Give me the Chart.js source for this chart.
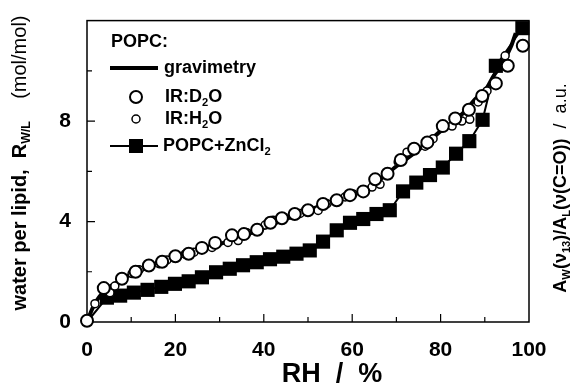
<!DOCTYPE html>
<html>
<head>
<meta charset="utf-8">
<script src="https://cdn.jsdelivr.net/npm/chart.js@4/dist/chart.umd.min.js"></script>
<style>
  html, body { margin: 0; padding: 0; background: #fff; }
  #wrap { width: 579px; height: 390px; }
</style>
</head>
<body>
<div id="wrap"><canvas id="chart" width="579" height="390"></canvas></div>
<script>
// gravimetry curve (POPC)
const rhGrav = [0, 1, 2, 4, 6, 10, 15, 20, 25, 30, 35, 40, 45, 50, 55, 60, 65, 70, 75, 80, 85, 88, 90, 92, 94, 96, 97];
const rGrav = [0, 0.45, 0.8, 1.25, 1.5, 1.9, 2.25, 2.55, 2.85, 3.1, 3.4, 3.75, 4.1, 4.45, 4.75, 5.05, 5.5, 6.2, 6.85, 7.6, 8.3, 8.9, 9.2, 9.8, 10.3, 11.0, 11.5];

// IR:D2O (large open circles)
const rhD2O = [0, 3.8, 7.9, 11, 14, 17, 20, 23, 26, 29, 32.8, 35.5, 38.5, 41.5, 44.1, 47, 50, 53.4, 56.5, 59.5, 62.5, 65.2, 68, 71, 74, 77, 80.5, 83.3, 86.4, 89.4, 92.5, 95.2, 98.6];
const rD2O = [0.05, 1.35, 1.72, 2.0, 2.25, 2.4, 2.62, 2.72, 2.95, 3.15, 3.45, 3.5, 3.67, 3.95, 4.13, 4.3, 4.45, 4.7, 4.85, 5.05, 5.2, 5.68, 5.9, 6.45, 6.9, 7.15, 7.8, 8.1, 8.45, 9.0, 9.5, 10.2, 11.0];

// IR:H2O (small open circles)
const rhH2O = [1.8, 5.2, 6.3, 10.2, 11.8, 16.3, 18.1, 22.2, 24.2, 28.3, 31.9, 34.2, 36.2, 40.3, 42.1, 46.4, 48.2, 52.3, 54.3, 58.4, 60.2, 64.5, 66.3, 70.4, 72.4, 76.5, 78.3, 82.6, 84.8, 86.6, 88.5, 90.5, 94.6];
const rH2O = [0.73, 1.16, 1.43, 1.93, 2.08, 2.32, 2.47, 2.7, 2.78, 2.97, 3.17, 3.24, 3.55, 3.86, 4.05, 4.25, 4.32, 4.44, 4.71, 4.98, 5.1, 5.37, 5.48, 6.37, 6.76, 7.0, 7.3, 7.8, 8.0, 8.07, 8.76, 9.2, 10.6];

// POPC+ZnCl2 (filled squares)
const rhZn = [0, 4.5, 7.5, 10.6, 13.7, 16.8, 19.9, 23, 26, 29.2, 32.3, 35.3, 38.4, 41.4, 44.4, 47.4, 50.4, 53.4, 56.5, 59.5, 62.5, 65.5, 68.5, 71.5, 74.5, 77.6, 80.5, 83.5, 86.5, 89.5, 92.5, 98.5];
const rZn = [0, 0.97, 1.05, 1.17, 1.28, 1.4, 1.52, 1.62, 1.78, 1.98, 2.12, 2.26, 2.38, 2.5, 2.6, 2.72, 2.85, 3.2, 3.65, 3.95, 4.1, 4.3, 4.45, 5.2, 5.55, 5.85, 6.15, 6.7, 7.2, 8.05, 10.2, 11.7];

const xTicks = [0, 20, 40, 60, 80, 100];
const yTicks = [0, 4, 8];

const FONT = '"Liberation Sans", Arial, sans-serif';

function pts(xs, ys) {
  return xs.map(function (x, i) { return { x: x, y: ys[i] }; });
}

// draw a run of text pieces, some of them subscripts
function richWidth(ctx, parts, size) {
  var w = 0;
  parts.forEach(function (p) {
    var s = p.sub ? size * 0.62 : size;
    ctx.font = (p.bold === false ? '' : 'bold ') + s + 'px ' + FONT;
    w += ctx.measureText(p.t).width;
  });
  return w;
}
function drawRich(ctx, parts, x, y, size, align) {
  var w = richWidth(ctx, parts, size);
  var cx = align === 'center' ? x - w / 2 : x;
  ctx.textBaseline = 'middle';
  ctx.textAlign = 'left';
  ctx.fillStyle = '#000';
  parts.forEach(function (p) {
    var s = p.sub ? size * 0.62 : size;
    ctx.font = (p.bold === false ? '' : 'bold ') + s + 'px ' + FONT;
    ctx.fillText(p.t, cx, p.sub ? y + size * 0.32 : y);
    cx += ctx.measureText(p.t).width;
  });
}

const framePlugin = {
  id: 'frame',
  beforeDatasetsDraw: function (chart) {
    var ctx = chart.ctx, a = chart.chartArea;
    var xs = chart.scales.x, ys = chart.scales.y;
    ctx.save();
    ctx.strokeStyle = '#000';
    ctx.lineWidth = 1.5;
    ctx.strokeRect(a.left, a.top, a.right - a.left, a.bottom - a.top);
    ctx.lineWidth = 1.2;
    ctx.beginPath();
    for (var v = 10; v < 100; v += 10) {
      var px = xs.getPixelForValue(v);
      var len = v % 20 === 0 ? 8 : 5;
      ctx.moveTo(px, a.bottom);
      ctx.lineTo(px, a.bottom - len);
    }
    for (var u = 2; u < 12; u += 2) {
      var py = ys.getPixelForValue(u);
      var l2 = u % 4 === 0 ? 8 : 5;
      ctx.moveTo(a.left, py);
      ctx.lineTo(a.left + l2, py);
    }
    ctx.stroke();
    ctx.restore();
  }
};

const textPlugin = {
  id: 'texts',
  afterDraw: function (chart) {
    var ctx = chart.ctx;
    ctx.save();
    // x title
    drawRich(ctx, [{ t: 'RH  /  %' }], 332, 375, 27, 'center');

    // left title
    ctx.save();
    ctx.translate(20, 163);
    ctx.rotate(-Math.PI / 2);
    drawRich(ctx, [
      { t: 'water per lipid,  ' }, { t: 'R' }, { t: 'W/L', sub: true },
      { t: '    (mol/mol)', bold: false }
    ], 0, 0, 20, 'center');
    ctx.restore();

    // right title
    ctx.save();
    ctx.translate(561, 188);
    ctx.rotate(-Math.PI / 2);
    drawRich(ctx, [
      { t: 'A' }, { t: 'W', sub: true }, { t: '(\u03bd' }, { t: '13', sub: true },
      { t: ')/A' }, { t: 'L', sub: true }, { t: '(\u03bd(C=O))' },
      { t: '  /  a.u.', bold: false }
    ], 0, 0, 18, 'center');
    ctx.restore();

    // legend
    drawRich(ctx, [{ t: 'POPC:' }], 111, 42, 18);
    ctx.strokeStyle = '#000';
    ctx.lineWidth = 4;
    ctx.beginPath();
    ctx.moveTo(110, 68); ctx.lineTo(158, 68);
    ctx.stroke();
    drawRich(ctx, [{ t: 'gravimetry' }], 164, 68, 18);

    ctx.lineWidth = 2;
    ctx.fillStyle = '#fff';
    ctx.beginPath(); ctx.arc(136, 97, 6, 0, Math.PI * 2); ctx.fill(); ctx.stroke();
    drawRich(ctx, [{ t: 'IR:D' }, { t: '2', sub: true }, { t: 'O' }], 165, 97, 18);

    ctx.lineWidth = 1.5;
    ctx.fillStyle = '#fff';
    ctx.beginPath(); ctx.arc(136, 119, 4, 0, Math.PI * 2); ctx.fill(); ctx.stroke();
    drawRich(ctx, [{ t: 'IR:H' }, { t: '2', sub: true }, { t: 'O' }], 165, 119, 18);

    ctx.lineWidth = 2;
    ctx.beginPath();
    ctx.moveTo(110, 146); ctx.lineTo(158, 146);
    ctx.stroke();
    ctx.fillStyle = '#000';
    ctx.fillRect(129, 139, 14, 14);
    drawRich(ctx, [{ t: 'POPC+ZnCl' }, { t: '2', sub: true }], 163, 146, 18);
    ctx.restore();
  }
};

const config = {
  type: 'line',
  data: {
    datasets: [
      {
        label: 'IR:D2O',
        data: pts(rhD2O, rD2O),
        showLine: false,
        pointStyle: 'circle',
        pointRadius: 6,
        pointBorderWidth: 2,
        pointBorderColor: '#000',
        pointBackgroundColor: '#fff',
        clip: false
      },
      {
        label: 'IR:H2O',
        data: pts(rhH2O, rH2O),
        showLine: false,
        pointStyle: 'circle',
        pointRadius: 4,
        pointBorderWidth: 1.5,
        pointBorderColor: '#000',
        pointBackgroundColor: '#fff',
        clip: false
      },
      {
        label: 'gravimetry',
        data: pts(rhGrav, rGrav),
        borderColor: '#000',
        borderWidth: 4,
        pointRadius: 0,
        cubicInterpolationMode: 'monotone',
        clip: false
      },
      {
        label: 'POPC+ZnCl2',
        data: pts(rhZn, rZn),
        borderColor: '#000',
        borderWidth: 2,
        pointStyle: 'rect',
        pointRadius: rhZn.map(function (v, i) { return i === 0 ? 0 : 10; }),
        pointBorderWidth: 0,
        pointBackgroundColor: '#000',
        clip: false
      }
    ]
  },
  options: {
    responsive: false,
    animation: false,
    layout: { padding: { top: 6, right: 50, left: 0, bottom: 0 } },
    plugins: {
      legend: { display: false },
      tooltip: { enabled: false }
    },
    scales: {
      x: {
        type: 'linear',
        min: 0,
        max: 100,
        afterBuildTicks: function (s) { s.ticks = xTicks.map(function (v) { return { value: v }; }); },
        afterFit: function (s) { s.height = 68; },
        grid: { display: false },
        border: { display: false },
        ticks: {
          color: '#000',
          padding: 8,
          maxRotation: 0,
          font: { family: FONT, size: 21, weight: 'bold' }
        }
      },
      y: {
        type: 'linear',
        min: 0,
        max: 12,
        afterBuildTicks: function (s) { s.ticks = yTicks.map(function (v) { return { value: v }; }); },
        afterFit: function (s) { s.width = 87; },
        grid: { display: false },
        border: { display: false },
        ticks: {
          color: '#000',
          padding: 8,
          font: { family: FONT, size: 21, weight: 'bold' }
        }
      }
    }
  },
  plugins: [framePlugin, textPlugin]
};

window.onload = function () {
  var ctx = document.getElementById('chart').getContext('2d');
  window.chart = new Chart(ctx, config);
};
</script>
</body>
</html>
